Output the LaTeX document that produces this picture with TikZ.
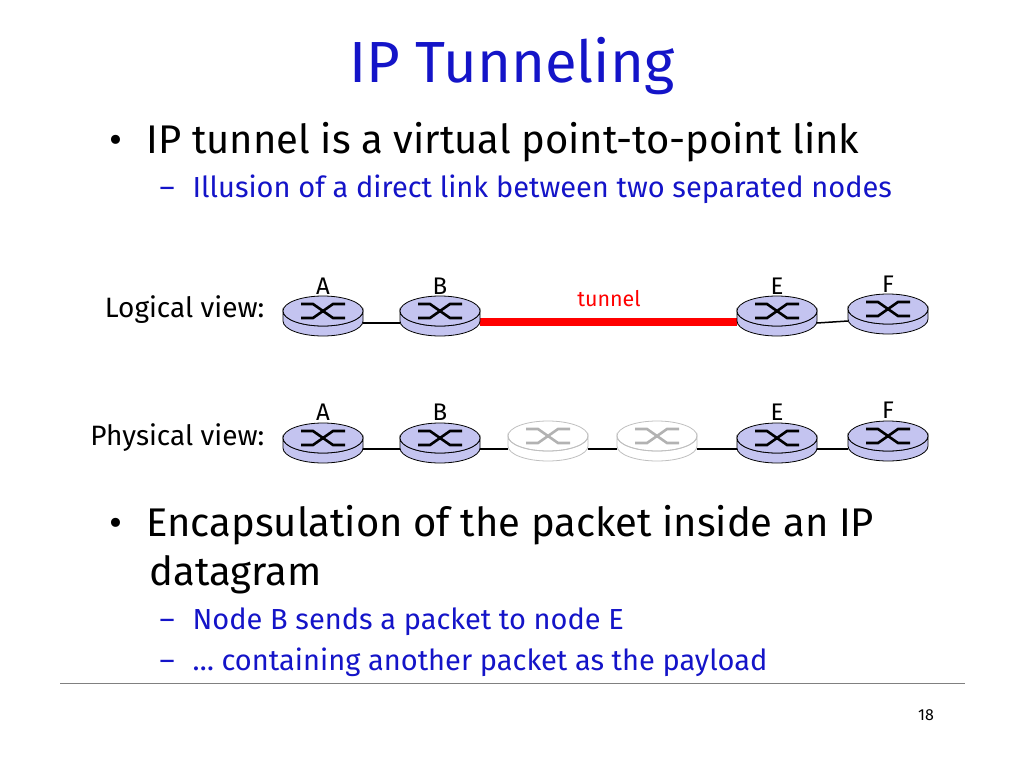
\documentclass[tikz,border=0pt]{standalone}
\usepackage{fontspec}
\setmainfont{Fira Sans}
\usetikzlibrary{calc}
\definecolor{tblue}{RGB}{20,20,200}
\definecolor{rfill}{RGB}{196,196,240}
\tikzset{
  router/.pic={
    \filldraw[fill=rfill,draw=black,line width=0.8pt] (-40,0) -- (-40,10) arc[start angle=180,end angle=0,x radius=40,y radius=15] -- (40,0) arc[start angle=0,end angle=180,x radius=40,y radius=15] -- cycle;
    \filldraw[fill=rfill,draw=black,line width=0.8pt] (0,0) ellipse[x radius=40,y radius=15];
    \draw[line width=2.6pt] (-22,-7)--(-10,-7)--(10,7)--(22,7) (-22,7)--(-10,7)--(10,-7)--(22,-7);
  },
  grouter/.pic={
    \filldraw[fill=white,draw=gray!50,line width=0.8pt] (-40,0) -- (-40,10) arc[start angle=180,end angle=0,x radius=40,y radius=15] -- (40,0) arc[start angle=0,end angle=180,x radius=40,y radius=15] -- cycle;
    \draw[gray!50,line width=0.8pt] (0,0) ellipse[x radius=40,y radius=15];
    \draw[gray!60,line width=2.6pt] (-22,-7)--(-10,-7)--(10,7)--(22,7) (-22,7)--(-10,7)--(10,-7)--(22,-7);
  },
  lbl/.style={font=\fontsize{24}{26}\selectfont},
  link/.style={line width=1.5pt},
  subitem/.style={anchor=west,tblue,font=\fontsize{29}{32}\selectfont},
}
\begin{document}
\begin{tikzpicture}[x=1pt,y=-1pt]
\useasboundingbox (0,0) rectangle (1024,768);
\node[tblue,font=\fontsize{58}{62}\selectfont] (title) at (512,66) {IP Tunneling};
\node[anchor=west,font=\fontsize{40}{44}\selectfont] (b1) at (106,142) {•\hspace{24pt}IP tunnel is a virtual point-to-point link};
\node[subitem] (s1) at (156,189) {–\hspace{18pt}Illusion of a direct link between two separated nodes};
% logical
\node[anchor=east,font=\fontsize{28}{30}\selectfont] (lv) at (268,310) {Logical view:};
\coordinate (LA) at (323,311); \coordinate (LB) at (440,311); \coordinate (LE) at (777,311); \coordinate (LF) at (888,309);
\draw[link] ($(LA)+(40,12)$) -- ($(LB)+(-40,12)$);
\draw[link] ($(LE)+(40,12)$) -- ($(LF)+(-40,12)$);
\draw[red,line width=8pt] ($(LB)+(40,11)$) -- ($(LE)+(-40,11)$);
\pic at (LA) {router}; \pic at (LB) {router}; \pic at (LE) {router}; \pic at (LF) {router};
\node[lbl] at (323,286) {A}; \node[lbl] at (440,286) {B}; \node[lbl] at (777,286) {E}; \node[lbl] at (888,284) {F};
\node[red,font=\fontsize{21.5}{24}\selectfont] (tun) at (609,299) {tunnel};
% physical
\node[anchor=east,font=\fontsize{28}{30}\selectfont] (pv) at (268,438) {Physical view:};
\coordinate (PA) at (323,438); \coordinate (PB) at (440,438); \coordinate (PC) at (548,436); \coordinate (PD) at (657,436); \coordinate (PE) at (777,438); \coordinate (PF) at (888,436);
\draw[link] ($(PA)+(40,11)$) -- ($(PB)+(-40,11)$);
\draw[link] ($(PB)+(40,11)$) -- ($(PC)+(-40,13)$);
\draw[link] ($(PC)+(40,13)$) -- ($(PD)+(-40,13)$);
\draw[link] ($(PD)+(40,13)$) -- ($(PE)+(-40,11)$);
\draw[link] ($(PE)+(40,11)$) -- ($(PF)+(-40,13)$);
\pic at (PA) {router}; \pic at (PB) {router}; \pic at (PC) {grouter}; \pic at (PD) {grouter}; \pic at (PE) {router}; \pic at (PF) {router};
\node[lbl] at (323,412) {A}; \node[lbl] at (440,412) {B}; \node[lbl] at (777,412) {E}; \node[lbl] at (888,410) {F};
% bottom
\node[anchor=west,font=\fontsize{40}{44}\selectfont] (b2) at (106,525) {•\hspace{24pt}Encapsulation of the packet inside an IP};
\node[anchor=west,font=\fontsize{40}{44}\selectfont] (b2b) at (146,575) {datagram};
\node[subitem] (s2) at (156,622) {–\hspace{18pt}Node B sends a packet to node E};
\node[subitem] (s3) at (156,662) {–\hspace{18pt}… containing another packet as the payload};
\draw[gray,line width=0.8pt] (60,683) -- (965,683);
\node[font=\fontsize{16}{18}\selectfont] (pg) at (926,715) {18};
\end{tikzpicture}
\end{document}
